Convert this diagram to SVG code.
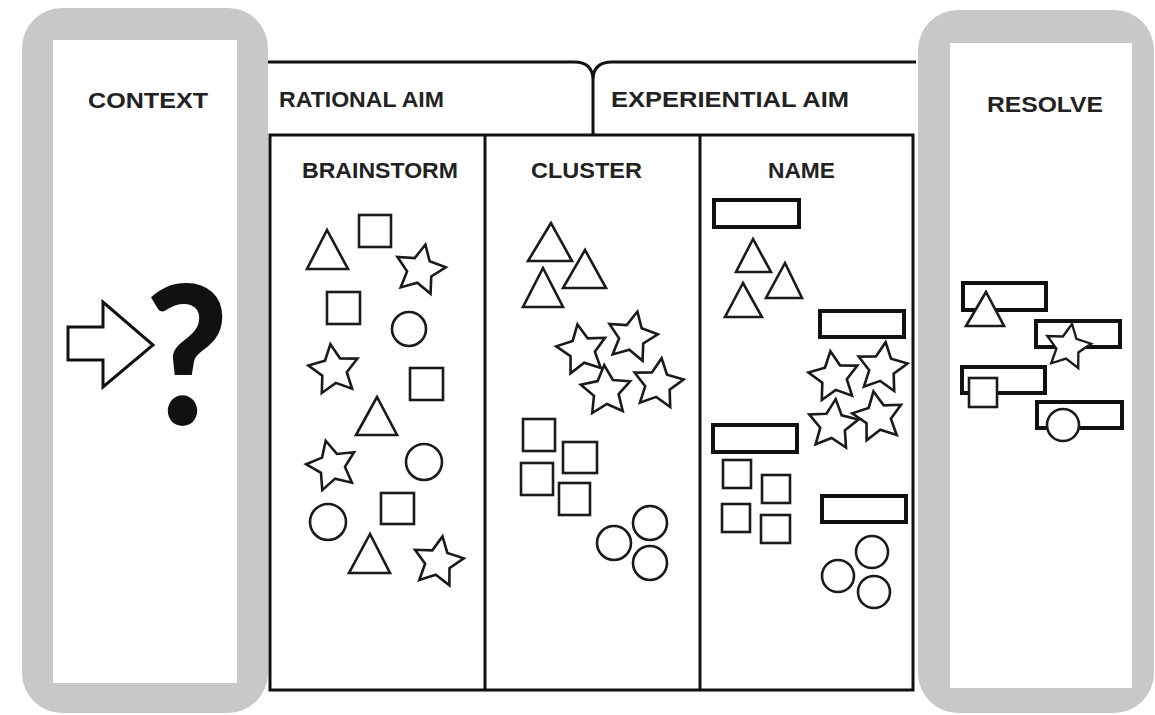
<svg xmlns="http://www.w3.org/2000/svg" xmlns:xlink="http://www.w3.org/1999/xlink" width="1155" height="715" viewBox="0 0 1155 715">
<style>
.gray{fill:#c8c8c8}
.white{fill:#ffffff}
.ln{fill:none;stroke:#111;stroke-width:3}
.sh{fill:#fff;stroke:#1a1a1a;stroke-width:2.6;stroke-linejoin:miter}
.nm{fill:#fff;stroke:#111;stroke-width:4}
.t{font-family:"Liberation Sans",Arial,sans-serif;font-weight:bold;font-size:22px;fill:#222}
</style>
<defs>
<path id="star" d="M0,-26 L7.64,-10.52 L24.73,-8.03 L12.36,4.02 L15.28,21.03 L0,13 L-15.28,21.03 L-12.36,4.02 L-24.73,-8.03 L-7.64,-10.52 Z"/>
</defs>
<rect width="1155" height="715" fill="#fff"/>

<g id="context">
<rect class="gray" x="22" y="8" width="246" height="705" rx="40"/>
<rect class="white" x="53" y="40" width="184" height="643"/>
<text class="t" x="88" y="108" font-size="24" textLength="120" lengthAdjust="spacingAndGlyphs">CONTEXT</text>
<polygon points="68,327 103,327 103,302 153,345 103,387 103,360 68,360" fill="#fff" stroke="#111" stroke-width="3" stroke-linejoin="miter"/>
<text transform="translate(145,425) scale(0.92,0.98)" x="0" y="0" font-family="Lato,Liberation Sans,sans-serif" font-weight="900" font-size="196" fill="#111">?</text>
</g>

<g id="resolve">
<rect class="gray" x="918" y="10" width="236" height="703" rx="40"/>
<rect class="white" x="950" y="43" width="182" height="645"/>
<text class="t" x="987" y="112" font-size="23" textLength="116" lengthAdjust="spacingAndGlyphs">RESOLVE</text>
</g>

<g id="connectors">
<path class="ln" d="M268,62 H574 Q593,62 593,80 V135 M612,62 Q593,62 593,80 M612,62 H916"/>
</g>

<g id="rational-aim">
<text class="t" x="279" y="107" textLength="165" lengthAdjust="spacingAndGlyphs">RATIONAL AIM</text>
</g>
<g id="experiential-aim">
<text class="t" x="611" y="107" textLength="238" lengthAdjust="spacingAndGlyphs">EXPERIENTIAL  AIM</text>
</g>

<g id="columns">
<rect class="ln" x="270" y="135" width="643" height="555"/>
<line class="ln" x1="485" y1="135" x2="485" y2="690"/>
<line class="ln" x1="700" y1="135" x2="700" y2="690"/>
</g>

<g id="brainstorm">
<text class="t" x="302" y="178" textLength="156" lengthAdjust="spacingAndGlyphs">BRAINSTORM</text>
<polygon class="sh" points="327,230 307,269 348,269"/>
<rect class="sh" x="359" y="215" width="32" height="32"/>
<use xlink:href="#star" class="sh" transform="translate(420,270) rotate(12)"/>
<rect class="sh" x="327" y="292" width="33" height="32"/>
<circle class="sh" cx="409" cy="329" r="17"/>
<use xlink:href="#star" class="sh" transform="translate(334,370) rotate(-8)"/>
<rect class="sh" x="410" y="368" width="33" height="32"/>
<polygon class="sh" points="377,397 356,435 397,435"/>
<use xlink:href="#star" class="sh" transform="translate(332,466) rotate(-14)"/>
<circle class="sh" cx="424" cy="462" r="18"/>
<rect class="sh" x="381" y="493" width="33" height="31"/>
<circle class="sh" cx="328" cy="522" r="18"/>
<polygon class="sh" points="370,534 349,573 390,573"/>
<use xlink:href="#star" class="sh" transform="translate(438,562) rotate(10)"/>
</g>

<g id="cluster">
<text class="t" x="531" y="178" textLength="111" lengthAdjust="spacingAndGlyphs">CLUSTER</text>
<polygon class="sh" points="551,223 528,261 572,261"/>
<polygon class="sh" points="585,250 563,288 606,288"/>
<polygon class="sh" points="543,268 523,307 563,307"/>
<use xlink:href="#star" class="sh" transform="translate(582,350) rotate(-10)"/>
<use xlink:href="#star" class="sh" transform="translate(632,337) rotate(12)"/>
<use xlink:href="#star" class="sh" transform="translate(606,391) rotate(-4)"/>
<use xlink:href="#star" class="sh" transform="translate(658,384) rotate(8)"/>
<rect class="sh" x="523" y="419" width="32" height="32"/>
<rect class="sh" x="563" y="442" width="34" height="31"/>
<rect class="sh" x="521" y="463" width="32" height="32"/>
<rect class="sh" x="559" y="483" width="31" height="32"/>
<circle class="sh" cx="614" cy="543" r="17"/>
<circle class="sh" cx="650" cy="523" r="17"/>
<circle class="sh" cx="650" cy="563" r="17"/>
</g>

<g id="name">
<text class="t" x="768" y="178" textLength="67" lengthAdjust="spacingAndGlyphs">NAME</text>
<rect class="nm" x="714" y="200" width="85" height="27"/>
<polygon class="sh" points="753,239 736,272 771,272"/>
<polygon class="sh" points="785,263 766,298 802,298"/>
<polygon class="sh" points="743,283 725,317 762,317"/>
<rect class="nm" x="820" y="311" width="84" height="26"/>
<use xlink:href="#star" class="sh" transform="translate(834,377) rotate(-8)"/>
<use xlink:href="#star" class="sh" transform="translate(882,368) rotate(8)"/>
<use xlink:href="#star" class="sh" transform="translate(878,417) rotate(-10)"/>
<use xlink:href="#star" class="sh" transform="translate(833,425) rotate(6)"/>
<rect class="nm" x="713" y="425" width="84" height="27"/>
<rect class="sh" x="723" y="460" width="28" height="28"/>
<rect class="sh" x="762" y="475" width="28" height="28"/>
<rect class="sh" x="722" y="504" width="28" height="28"/>
<rect class="sh" x="761" y="515" width="29" height="28"/>
<rect class="nm" x="822" y="496" width="84" height="26"/>
<circle class="sh" cx="872" cy="552" r="16"/>
<circle class="sh" cx="838" cy="576" r="16"/>
<circle class="sh" cx="874" cy="592" r="16"/>
</g>

<g id="resolve-shapes">
<rect class="nm" x="963" y="283" width="83" height="27"/>
<polygon class="sh" points="986,292 966,326 1004,326"/>
<rect class="nm" x="1036" y="321" width="84" height="26"/>
<use xlink:href="#star" class="sh" transform="translate(1068,347) rotate(10) scale(0.9)"/>
<rect class="nm" x="962" y="367" width="83" height="26"/>
<rect class="sh" x="969" y="378" width="28" height="29"/>
<rect class="nm" x="1037" y="402" width="85" height="26"/>
<circle class="sh" cx="1063" cy="425" r="16"/>
</g>
</svg>
